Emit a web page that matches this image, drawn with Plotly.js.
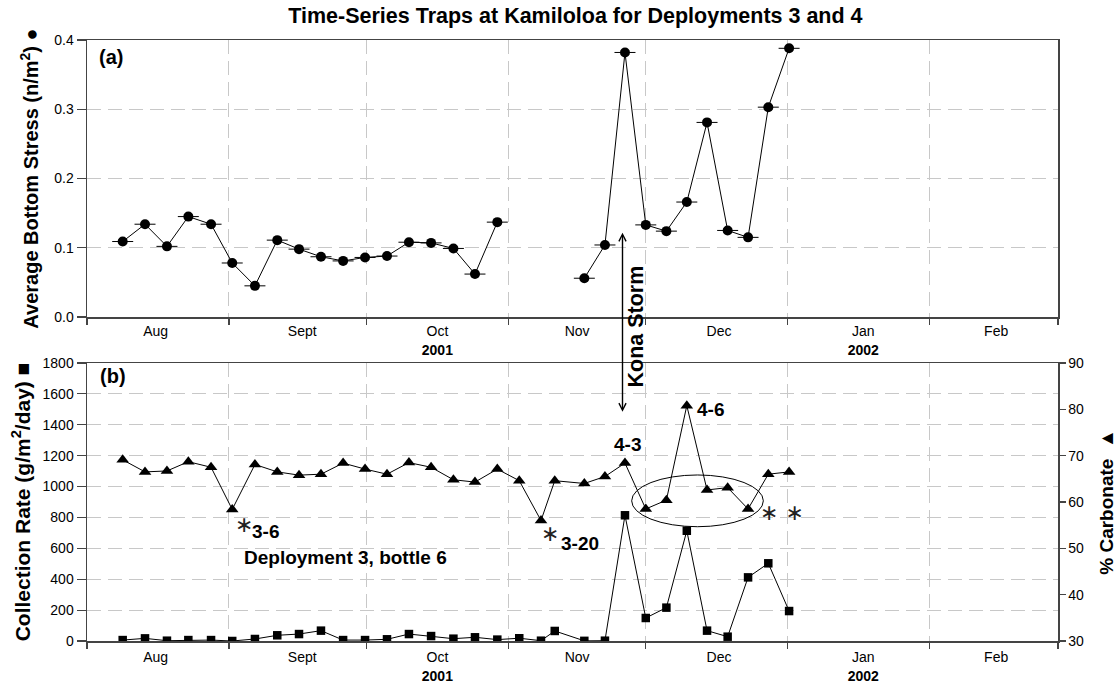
<!DOCTYPE html>
<html>
<head>
<meta charset="utf-8">
<script src="https://cdn.plot.ly/plotly-3.0.1.min.js"></script>
<style>html,body{margin:0;padding:0;background:#fff;}#chart{width:1120px;height:682px;}</style>
</head>
<body>
<div id="chart"></div>
<script>
// ---- data ----
const sampleDates = [
  '2001-08-08 19:00','2001-08-13 16:00','2001-08-18 11:00','2001-08-23 03:00','2001-08-28 02:00',
  '2001-09-01 17:00','2001-09-06 16:00','2001-09-11 13:00','2001-09-16 07:00','2001-09-21 02:00',
  '2001-09-25 22:00','2001-09-30 17:00','2001-10-05 12:00','2001-10-10 07:00','2001-10-15 03:00',
  '2001-10-20 00:00','2001-10-24 17:00','2001-10-29 14:00','2001-11-03 09:00','2001-11-08 03:00',
  '2001-11-11 03:00','2001-11-17 14:00','2001-11-22 02:00','2001-11-26 11:00','2001-12-01 00:00',
  '2001-12-05 12:00','2001-12-09 23:00','2001-12-14 09:00','2001-12-18 21:00','2001-12-23 08:00',
  '2001-12-27 18:00','2002-01-01 07:00'
];
const bottomStress = [
  0.109, 0.134, 0.102, 0.145, 0.134, 0.078, 0.045, 0.111, 0.098, 0.087,
  0.081, 0.086, 0.088, 0.108, 0.107, 0.099, 0.062, 0.137, null, null,
  null, 0.056, 0.104, 0.382, 0.133, 0.124, 0.166, 0.281, 0.125, 0.115,
  0.303, 0.388
];
const collectionRate = [
  6, 17, 2, 6, 6, 0, 13, 37, 45, 67,
  6, 6, 11, 45, 32, 15, 24, 9, 18, 2,
  65, 1, 2, 814, 149, 216, 714, 67, 28, 412,
  503, 194
];
const carbonatePct = [
  69.1, 66.5, 66.7, 68.7, 67.5, 58.4, 68.1, 66.5, 65.8, 66.0,
  68.4, 67.1, 66.0, 68.5, 67.5, 64.8, 64.3, 67.1, 64.6, 56.0,
  64.6, 64.0, 65.5, 68.4, 58.5, 60.4, 80.8, 62.6, 63.1, 58.5,
  66.0, 66.5
];

const monthStarts = ['2001-08-01','2001-09-01','2001-10-01','2001-11-01','2001-12-01','2002-01-01','2002-02-01','2002-03-01'];
const monthMids   = ['2001-08-16','2001-09-17','2001-10-16 12:00','2001-11-16','2001-12-17','2002-01-17 12:00','2002-02-15 12:00'];
const monthNames  = ['Aug','Sept','Oct','Nov','Dec','Jan','Feb'];
const yearNames   = ['','','2001','','','2002',''];

// ---- build ----
const FONT = 'Liberation Sans, Arial, Helvetica, sans-serif';
const monthTickText = monthNames.map((m, i) => yearNames[i] ? m + '<br><b>' + yearNames[i] + '</b>' : m);
const GRID = '#c8c8c8';
const AXC = '#444';
const NB = '\u00A0';

const xCommon = {
  type: 'date',
  range: [monthStarts[0], monthStarts[monthStarts.length - 1]],
  tickmode: 'array', tickvals: monthMids, ticktext: monthTickText,
  ticks: '', showgrid: false, ticklabelstandoff: 1,
  minor: { tickmode: 'array', tickvals: monthStarts, ticks: 'outside', ticklen: 6, tickcolor: AXC, tickwidth: 1.2,
           showgrid: true, gridcolor: GRID, griddash: '14px,7px', gridwidth: 1 },
  showline: true, linecolor: AXC, linewidth: 1.5, mirror: true,
  tickfont: { family: FONT, size: 14, color: '#000' },
  zeroline: false, fixedrange: true
};

const traces = [
  {
    x: sampleDates, y: bottomStress, xaxis: 'x', yaxis: 'y', type: 'scatter', mode: 'markers',
    name: 'Collection interval', hoverinfo: 'skip',
    marker: { symbol: 'line-ew', size: 15, color: '#000', line: { color: '#000', width: 1 } }
  },
  {
    x: sampleDates, y: bottomStress, xaxis: 'x', yaxis: 'y', type: 'scatter', mode: 'lines+markers',
    connectgaps: false, name: 'Average bottom stress',
    line: { color: '#000', width: 1 },
    marker: { symbol: 'circle', size: 10, color: '#000' }
  },
  {
    x: sampleDates, y: collectionRate, xaxis: 'x2', yaxis: 'y2', type: 'scatter', mode: 'lines+markers',
    name: 'Collection rate',
    line: { color: '#000', width: 1 },
    marker: { symbol: 'square', size: 8.5, color: '#000' }
  },
  {
    x: sampleDates, y: carbonatePct, xaxis: 'x2', yaxis: 'y3', type: 'scatter', mode: 'lines+markers',
    name: '% Carbonate',
    line: { color: '#000', width: 1 },
    marker: { symbol: 'triangle-up', size: 11, color: '#000' }
  }
];

const W = 1120, H = 682, ML = 87, MR = 62, MT = 40, MB = 41;
const PW = W - ML - MR, PH = H - MT - MB;
const px = v => (v - ML) / PW;          // pixel x -> paper
const py = v => (H - MB - v) / PH;      // pixel y -> paper

const bold = { family: FONT, size: 19, color: '#000', weight: 'bold' };
const star = { family: 'DejaVu Sans, sans-serif', size: 22, color: '#222' };

const annotations = [
  { text: '(a)', x: px(97), y: py(57.5), xanchor: 'left', yanchor: 'middle', font: Object.assign({}, bold, { size: 20 }) },
  { text: '(b)', x: px(98), y: py(376), xanchor: 'left', yanchor: 'middle', font: Object.assign({}, bold, { size: 20 }) },
  { text: '∗', x: px(244), y: py(524), xanchor: 'center', yanchor: 'middle', font: star },
  { text: '3-6', x: px(250), y: py(531.5), xanchor: 'left', yanchor: 'middle', font: bold },
  { text: 'Deployment 3, bottle 6', x: px(241.5), y: py(557), xanchor: 'left', yanchor: 'middle', font: bold },
  { text: '∗', x: px(550), y: py(533), xanchor: 'center', yanchor: 'middle', font: star },
  { text: '3-20', x: px(558.5), y: py(543.7), xanchor: 'left', yanchor: 'middle', font: bold },
  { text: '4-3', x: px(627.3), y: py(444), xanchor: 'center', yanchor: 'middle', font: bold },
  { text: '4-6', x: px(695), y: py(409), xanchor: 'left', yanchor: 'middle', font: bold },
  { text: '∗' + NB + '∗', x: px(781.7), y: py(512), xanchor: 'center', yanchor: 'middle', font: star },
  { text: 'Kona Storm', x: px(635), y: py(326.5), xanchor: 'center', yanchor: 'middle', textangle: -90,
    font: Object.assign({}, bold, { size: 21.5 }) },
  { text: '', x: px(622.5), y: py(232.7), showarrow: true, axref: 'pixel', ayref: 'pixel', ax: 0, ay: 180.6,
    arrowside: 'end+start', arrowhead: 5, startarrowhead: 5, arrowsize: 1, startarrowsize: 1, arrowwidth: 1.4,
    arrowcolor: '#000', standoff: 0, startstandoff: 0 }
].map(a => Object.assign({ xref: 'paper', yref: 'paper', showarrow: false }, a));

const tickFont = { family: FONT, size: 14, color: '#000' };

const layout = {
  width: W, height: H,
  margin: { l: ML, r: MR, t: MT, b: MB, pad: 0 },
  paper_bgcolor: '#fff', plot_bgcolor: '#fff',
  showlegend: false,
  font: { family: FONT, color: '#000' },
  title: { text: 'Time-Series Traps at Kamiloloa for Deployments 3 and 4', x: 0.503, xref: 'paper',
           y: 1 - 15 / H, yref: 'container', yanchor: 'middle',
           font: { family: FONT, size: 21.5, color: '#000', weight: 'bold' } },
  xaxis: Object.assign({}, xCommon, { domain: [0, 1], anchor: 'y' }),
  xaxis2: Object.assign({}, xCommon, { domain: [0, 1], anchor: 'y2', ticklabelstandoff: 3 }),
  yaxis: {
    domain: [(H - MB - 317) / PH, 1], anchor: 'x', range: [0, 0.4], dtick: 0.1, tick0: 0, tickformat: '.1f',
    ticks: 'outside', ticklen: 9, tickcolor: AXC, tickwidth: 1.2, tickfont: tickFont,
    showgrid: true, gridcolor: GRID, griddash: '14px,7px', gridwidth: 1,
    showline: true, linecolor: AXC, linewidth: 1.5, mirror: true, zeroline: false, fixedrange: true,
    title: { text: 'Average Bottom Stress (n/m<sup>2</sup>) ●' + NB + NB + NB,
             font: { family: FONT, size: 20, color: '#000', weight: 'bold' }, standoff: 10 }
  },
  yaxis2: {
    domain: [0, (H - MB - 363) / PH], anchor: 'x2', range: [0, 1800], dtick: 200, tick0: 0,
    ticks: 'outside', ticklen: 9, tickcolor: AXC, tickwidth: 1.2, tickfont: tickFont,
    showgrid: true, gridcolor: GRID, griddash: '14px,7px', gridwidth: 1,
    showline: true, linecolor: AXC, linewidth: 1.5, mirror: false, zeroline: false, fixedrange: true,
    title: { text: 'Collection Rate (g/m<sup>2</sup>/day) ■' + NB + NB + NB + NB + NB,
             font: { family: FONT, size: 21, color: '#000', weight: 'bold' }, standoff: 6 }
  },
  yaxis3: {
    overlaying: 'y2', side: 'right', anchor: 'x2', range: [30, 90], dtick: 10, tick0: 30,
    ticks: 'outside', ticklen: 6, tickcolor: AXC, tickwidth: 1.2, tickfont: tickFont,
    showgrid: false, showline: true, linecolor: AXC, linewidth: 1.5, zeroline: false, fixedrange: true,
    title: { text: '% Carbonate' + NB + NB + '▲',
             font: { family: FONT, size: 19, color: '#000', weight: 'bold' }, standoff: 16 }
  },
  shapes: [
    { type: 'circle', xref: 'x2', yref: 'y2', x0: '2001-11-27 22:00', x1: '2001-12-26 16:00', y0: 740, y1: 1075,
      line: { color: '#000', width: 1 }, fillcolor: 'rgba(0,0,0,0)' }
  ],
  annotations: annotations
};

Plotly.newPlot('chart', traces, layout, { displayModeBar: false, staticPlot: true });
</script>
</body>
</html>
